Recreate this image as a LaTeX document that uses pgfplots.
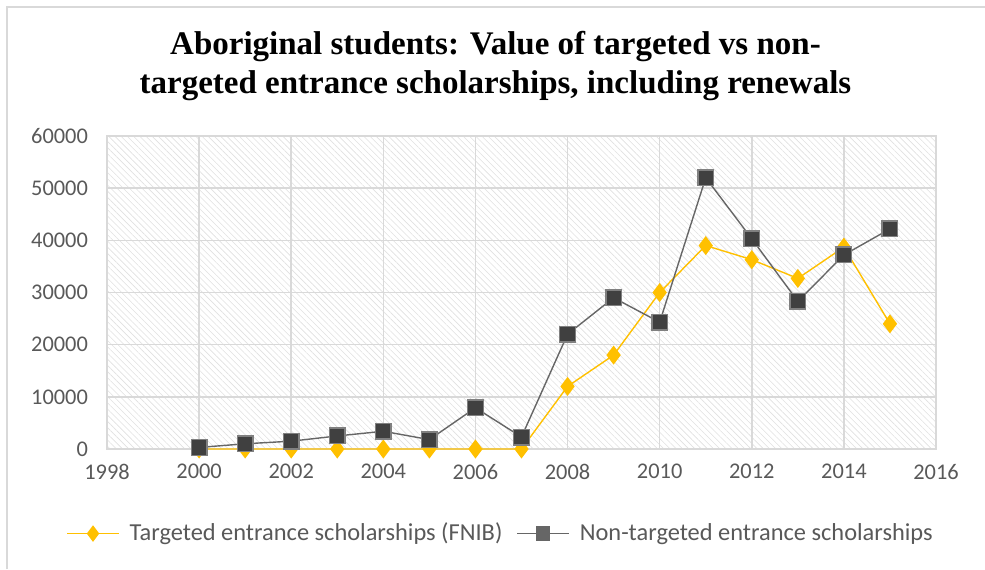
\documentclass[border=0pt]{standalone}
\usepackage{pgfplots}
\pgfplotsset{compat=1.18}
\usepackage{fontspec}
\setmainfont{Carlito}
\newfontfamily\titlefont{Liberation Serif}
\usetikzlibrary{patterns.meta}
\definecolor{ygold}{HTML}{FFC000}
\definecolor{dgray}{HTML}{404040}
\definecolor{tickgray}{HTML}{595959}
\definecolor{gridgray}{HTML}{D9D9D9}
\begin{document}
\begin{tikzpicture}
\path[use as bounding box] (0,0) rectangle (492.5pt,284.5pt);
\draw[gridgray, line width=1pt] (3.7pt,0pt) -- (3.7pt,281pt) -- (492.5pt,281pt);
\begin{axis}[
  at={(53.5pt,60pt)}, anchor=south west,
  scale only axis, width=414.5pt, height=156.5pt,
  xmin=1998, xmax=2016, ymin=0, ymax=60000,
  xtick={1998,2000,...,2016}, ytick={0,10000,...,60000},
  scaled y ticks=false,
  x tick label style={/pgf/number format/1000 sep=, yshift=-4pt},
  y tick label style={/pgf/number format/1000 sep=, xshift=-6pt},
  /pgf/number format/assume math mode=true,
  tick label style={font=\fontsize{11.2}{13}\selectfont, text=tickgray},
  grid=major, major grid style={gridgray, line width=0.8pt},
  axis line style={gridgray, line width=0.8pt},
  major tick length=0pt,
  axis background/.style={pattern={Lines[angle=-45,distance=2.2pt,line width=0.3pt]}, pattern color=gray!24},
  title={Aboriginal students: Value of targeted vs non-\\targeted entrance scholarships, including renewals},
  title style={font=\titlefont\bfseries\fontsize{16.5}{19.5}\selectfont, align=center, at={(0.5,1)}, yshift=8pt, xshift=-13pt},
  legend columns=2,
  legend style={draw=none, at={(0.5,-0.21)}, xshift=-10pt, anchor=north, font=\fontsize{12.2}{14}\selectfont, text=tickgray, inner xsep=0pt, /tikz/every even column/.append style={column sep=5pt}, /tikz/every odd column/.append style={column sep=3pt}},
  legend image code/.code={\draw[#1, mark options={scale=0.85}] (0pt,0pt) -- (26pt,0pt); \draw[#1, mark options={scale=0.85}] plot coordinates {(13pt,0pt)};},
  legend cell align=left,
  clip=false,
]
\addplot[color=ygold, line width=0.7pt, mark=diamond*, mark size=4.2pt, mark options={fill=ygold, draw=ygold}] coordinates {
(2000,0) (2001,0) (2002,0) (2003,0) (2004,0) (2005,0) (2006,0) (2007,0)
(2008,12000) (2009,18000) (2010,30000) (2011,39000) (2012,36300) (2013,32700) (2014,38700) (2015,24000)};
\addlegendentry{Targeted entrance scholarships (FNIB)}
\addplot[color=gray!80!black, line width=0.7pt, mark=square*, mark size=3.9pt, mark options={fill=dgray, draw=gray}] coordinates {
(2000,300) (2001,1000) (2002,1500) (2003,2500) (2004,3400) (2005,1800) (2006,7900) (2007,2300)
(2008,22000) (2009,29000) (2010,24300) (2011,52000) (2012,40300) (2013,28300) (2014,37200) (2015,42200)};
\addlegendentry{Non-targeted entrance scholarships}
\end{axis}
\end{tikzpicture}
\end{document}
